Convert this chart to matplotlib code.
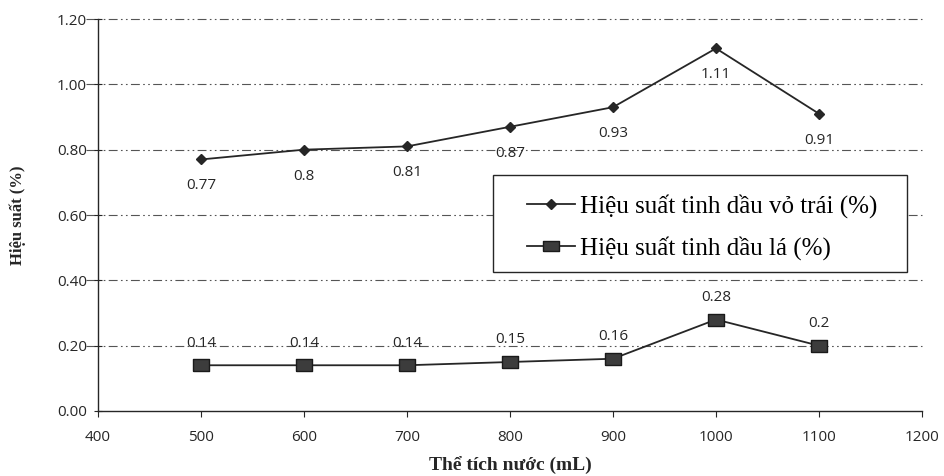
import matplotlib
matplotlib.use("Agg")
import matplotlib.pyplot as plt
from matplotlib.lines import Line2D
from matplotlib.patches import Rectangle

volumes = [500, 600, 700, 800, 900, 1000, 1100]
peel_yield = [0.77, 0.80, 0.81, 0.87, 0.93, 1.11, 0.91]
leaf_yield = [0.14, 0.14, 0.14, 0.15, 0.16, 0.28, 0.20]
peel_labels = ["0.77", "0.8", "0.81", "0.87", "0.93", "1.11", "0.91"]
leaf_labels = ["0.14", "0.14", "0.14", "0.15", "0.16", "0.28", "0.2"]
x_ticks = [400, 500, 600, 700, 800, 900, 1000, 1100, 1200]
y_ticks = [0.0, 0.2, 0.4, 0.6, 0.8, 1.0, 1.2]

serif = ["Liberation Serif", "DejaVu Serif"]
num_font = ["Open Sans", "DejaVu Sans"]
ink = "#262626"

# flat rectangular marker for the leaf series
rect_marker = [(-1.45, -1.0), (1.45, -1.0), (1.45, 1.0), (-1.45, 1.0), (-1.45, -1.0)]

fig = plt.figure(figsize=(9.44, 4.76), dpi=100)
ax = fig.add_axes([98 / 944, 1 - 411 / 476, 824 / 944, 392 / 476])

ax.set_xlim(400, 1200)
ax.set_ylim(0, 1.2)
ax.set_xticks(x_ticks)
ax.set_yticks(y_ticks)
ax.set_xticklabels([str(v) for v in x_ticks], fontfamily=num_font, fontsize=11, color=ink)
ax.set_yticklabels([f"{v:.2f}" for v in y_ticks], fontfamily=num_font, fontsize=11, color=ink)
ax.tick_params(axis="y", direction="inout", length=6, width=0.8, color=ink, pad=5)
ax.tick_params(axis="x", direction="out", length=4, width=0.8, color=ink, pad=10)

for side in ("top", "right"):
    ax.spines[side].set_visible(False)
for side in ("left", "bottom"):
    ax.spines[side].set_color(ink)
    ax.spines[side].set_linewidth(1.0)

# dash-dot-dot horizontal gridlines
for yv in y_ticks[1:]:
    ax.plot([388, 1200], [yv, yv], color="#555555", lw=0.8,
            dashes=(8, 3, 1.5, 3, 1.5, 3), clip_on=False, zorder=1)

ax.plot(volumes, peel_yield, color=ink, lw=1.3, marker="D", markersize=5,
        markerfacecolor=ink, markeredgecolor=ink, zorder=3)
ax.plot(volumes, leaf_yield, color=ink, lw=1.3, marker=rect_marker, markersize=12,
        markerfacecolor="#3c3c3c", markeredgecolor="#1a1a1a", markeredgewidth=1.0, zorder=3)

for xv, yv, lab in zip(volumes, peel_yield, peel_labels):
    ax.annotate(lab, (xv, yv), xytext=(0, -19), textcoords="offset points",
                ha="center", va="center", fontfamily=num_font, fontsize=11, color=ink)
for xv, yv, lab in zip(volumes, leaf_yield, leaf_labels):
    ax.annotate(lab, (xv, yv), xytext=(0, 16), textcoords="offset points",
                ha="center", va="center", fontfamily=num_font, fontsize=11, color=ink)

# legend box drawn as a plain framed rectangle, entries placed inside it
ax.add_patch(Rectangle((0.479, 0.355), 0.503, 0.247, transform=ax.transAxes,
                       facecolor="white", edgecolor=ink, linewidth=1.0, zorder=4))
handles = [
    Line2D([], [], color=ink, lw=1.3, marker="D", markersize=5,
           markerfacecolor=ink, markeredgecolor=ink),
    Line2D([], [], color=ink, lw=1.3, marker=rect_marker, markersize=11,
           markerfacecolor="#3c3c3c", markeredgecolor="#1a1a1a"),
]
leg = ax.legend(handles, ["Hiệu suất tinh dầu vỏ trái (%)", "Hiệu suất tinh dầu lá (%)"],
                loc="upper left", bbox_to_anchor=(0.521, 0.553),
                prop={"family": serif, "size": 18}, frameon=False,
                borderpad=0, labelspacing=0.72,
                handlelength=1.9, handletextpad=0.2, borderaxespad=0)
leg.set_zorder(5)

ax.set_xlabel("Thể tích nước (mL)", fontfamily=serif, fontsize=14, fontweight="bold",
              color=ink, labelpad=8)
ax.set_ylabel("Hiệu suất (%)", fontfamily=serif, fontsize=12, fontweight="bold",
              color=ink, labelpad=22)

fig.savefig("out.png", dpi=100)
